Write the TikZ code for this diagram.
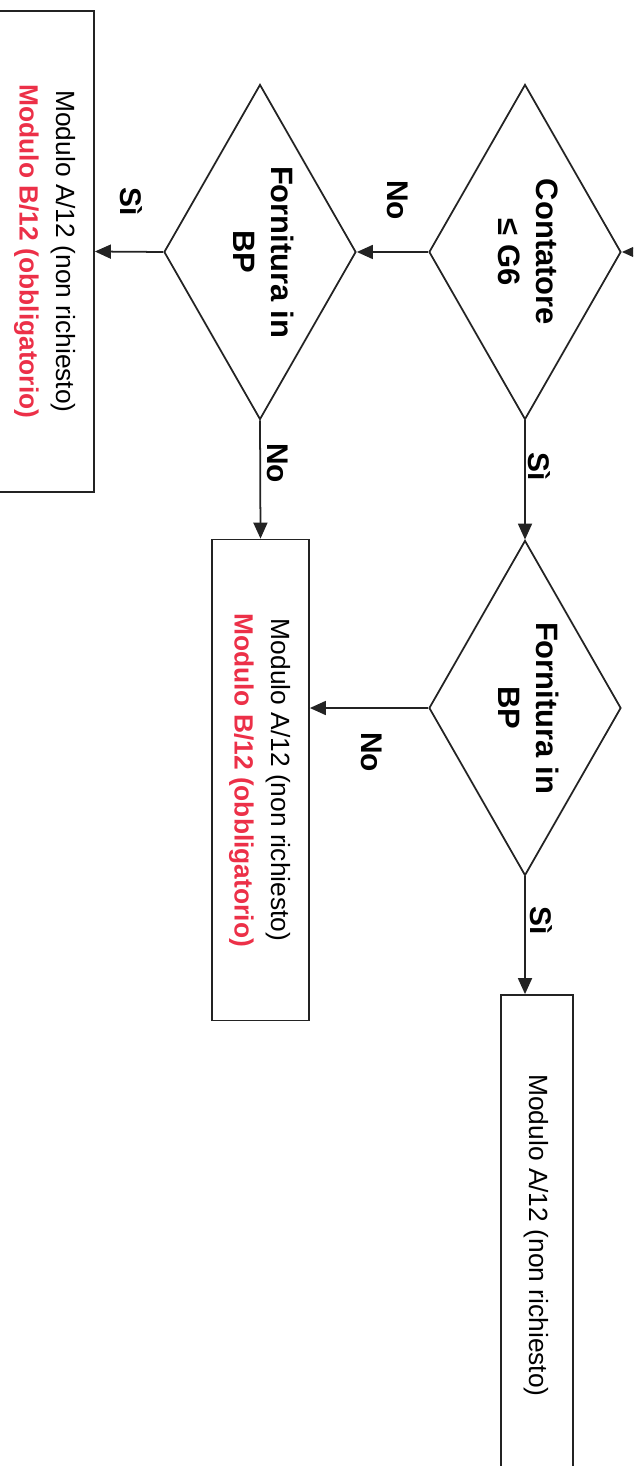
\documentclass[tikz,border=0pt]{standalone}
\usepackage{fontspec}
\setmainfont{Liberation Sans}
\usepackage{graphicx}
\usepackage{xcolor}
\definecolor{ink}{RGB}{35,35,35}
\definecolor{mandatory}{RGB}{236,48,72}
\usetikzlibrary{arrows.meta, shapes.geometric}

\newcommand{\upright}[1]{\rotatebox{-90}{\begin{tabular}{@{}c@{}}#1\end{tabular}}}

\begin{document}
\begin{tikzpicture}[
  x=0.2mm, y=-0.2mm,
  decision/.style={diamond, aspect=0.573, draw=ink, line width=1pt, inner sep=0pt,
    minimum width=38.4mm, minimum height=67mm,
    font=\fontsize{17.6}{21.6}\selectfont\bfseries},
  module/.style={rectangle, draw=ink, line width=1pt, inner sep=0pt,
    minimum width=19.4mm, minimum height=96.2mm,
    font=\fontsize{15}{21}\selectfont},
  lbl/.style={rotate=-90, inner sep=0pt, font=\fontsize{17}{20}\selectfont\bfseries},
  arr/.style={draw=ink, line width=1pt, -{Triangle[length=3.2mm, width=2.8mm]}}
]
\clip (0,0) rectangle (633,1466);

% decisions
\node[decision] (d1) at (525,252) {\upright{Contatore\\≤ G6}};
\node[decision] (d2) at (260,252) {\upright{Fornitura in\\BP}};
\node[decision] (d3) at (525,708) {\upright{Fornitura in\\BP}};

% forms
\node[module] (boxL) at (45.5,251.5)
  {\upright{Modulo A/12 (non richiesto)\\\textcolor{mandatory}{\bfseries Modulo B/12 (obbligatorio)}}};
\node[module] (boxM) at (260.5,780)
  {\upright{Modulo A/12 (non richiesto)\\\textcolor{mandatory}{\bfseries Modulo B/12 (obbligatorio)}}};
\node[module, minimum width=14.4mm] (boxR) at (537,1235.5)
  {\upright{Modulo A/12 (non richiesto)}};

\coordinate (entry) at (645,252);

% connectors
\draw[arr] (entry) -- (d1.east);
\draw[arr] (d1.west) -- (d2.east);
\draw[arr] (d2.west) -- (boxL.east);
\draw[arr] (d2.south) -- (boxM.north);
\draw[arr] (d1.south) -- (d3.north);
\draw[arr] (d3.west) -- (d3.west -| boxM.east);
\draw[arr] (d3.south) -- (d3.south |- boxR.north);

% labels
\node[lbl] (lNo1) at (398,200) {No};
\node[lbl] (lSi1) at (131,202) {Sì};
\node[lbl] (lNo2) at (278,463) {No};
\node[lbl] (lSi2) at (539,467) {Sì};
\node[lbl] (lNo3) at (372,752) {No};
\node[lbl] (lSi3) at (541,921) {Sì};

\end{tikzpicture}
\end{document}
